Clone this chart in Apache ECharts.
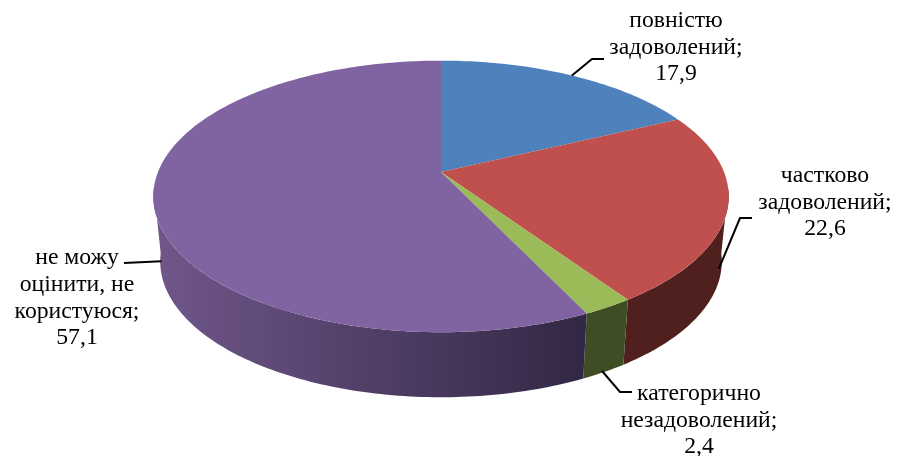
<!DOCTYPE html>
<html>
<head>
<meta charset="utf-8">
<style>html,body{margin:0;padding:0;background:#fff}#chart{width:897px;height:456px}</style>
<script src="https://cdn.jsdelivr.net/npm/echarts@6/dist/echarts.min.js"></script>
</head>
<body>
<div id="chart"></div>
<script>
// Chart values
var categories = ['повністю\nзадоволений', 'частково\nзадоволений', 'категорично\nнезадоволений', 'не можу\nоцінити, не\nкористуюся'];
var values = [17.9, 22.6, 2.4, 57.1];

// Styling and layout
var topColors = ['#4F81BD', '#C0504D', '#9BBB59', '#8064A2'];
var wallColors = [['#2A4566', '#2A4566'], ['#4F201D', '#4F201D'], ['#3F4D24', '#3F4D24'], ['#70578B', '#322744']];
var labelCenters = [[676, 47.5], [825, 202.5], [699, 420.5], [77, 298]];
var labelElbows = [[[592, 59], [604, 59]], [[740, 218], [752, 218]], [[620, 392], [632, 392]], [[124, 263]]];
var leaderNudges = [[0, 0], [-2, -4], [-2, -1], [1, -6]];
var view = { cx: 441, cy: 172, a: 283, b: 131.4, p: 0.18, depth: 65, shrink: 0.976 };

var total = values.reduce(function (s, v) { return s + v; }, 0);
function angles(i) {
  var before = values.slice(0, i).reduce(function (s, v) { return s + v; }, 0);
  return [before / total * 360, (before + values[i]) / total * 360];
}
function ring(deg, lower) {
  var t = deg * Math.PI / 180, u = Math.sin(t), v = Math.cos(t), w = 1 + view.p * v;
  var s = lower ? view.shrink : 1;
  return [view.cx + s * view.a * u / w, view.cy + (lower ? view.depth : 0) - view.b * v / w];
}
function arc(a0, a1, lower) {
  var pts = [], n = Math.max(2, Math.ceil(Math.abs(a1 - a0)));
  for (var k = 0; k <= n; k++) pts.push(ring(a0 + (a1 - a0) * k / n, lower));
  return pts;
}
var chartData = categories.map(function (c, i) { return { name: c, value: values[i] }; });

var chart = echarts.init(document.getElementById('chart'), null, { renderer: 'canvas' });
chart.setOption({
  animation: false,
  backgroundColor: '#fff',
  series: [
    {
      type: 'custom', coordinateSystem: 'none', z: 1, silent: true, data: chartData,
      renderItem: function (params) {
        var i = params.dataIndex, r = angles(i);
        var a0 = Math.max(r[0], 97), a1 = Math.min(r[1], 263);
        if (a1 <= a0) return { type: 'group', children: [] };
        var pts = arc(a0, a1, false).concat(arc(a1, a0, true));
        return {
          type: 'polygon',
          shape: { points: pts },
          style: {
            fill: new echarts.graphic.LinearGradient(0, 0, 1, 0, [
              { offset: 0, color: wallColors[i][0] }, { offset: 1, color: wallColors[i][1] }
            ])
          }
        };
      }
    },
    {
      type: 'custom', coordinateSystem: 'none', z: 2, silent: true, data: chartData,
      renderItem: function (params) {
        var r = angles(params.dataIndex);
        return {
          type: 'polygon',
          shape: { points: [[view.cx, view.cy]].concat(arc(r[0], r[1], false)) },
          style: { fill: topColors[params.dataIndex] }
        };
      }
    },
    {
      type: 'custom', coordinateSystem: 'none', z: 3, silent: true, data: chartData,
      renderItem: function (params) {
        var i = params.dataIndex, r = angles(i), mid = (r[0] + r[1]) / 2;
        var start = ring(mid, mid > 90 && mid < 270);
        start = [start[0] + leaderNudges[i][0], start[1] + leaderNudges[i][1]];
        var label = categories[i] + ';\n' + values[i].toFixed(1).replace('.', ',');
        return {
          type: 'group',
          children: [
            {
              type: 'polyline',
              shape: { points: [start].concat(labelElbows[i]) },
              style: { stroke: '#000', lineWidth: 2, fill: null }
            },
            {
              type: 'text',
              x: labelCenters[i][0], y: labelCenters[i][1],
              style: {
                text: label, fill: '#000', align: 'center', verticalAlign: 'middle',
                font: '23.7px "Liberation Serif"', lineHeight: 26.7
              }
            }
          ]
        };
      }
    }
  ]
});
</script>
</body>
</html>
